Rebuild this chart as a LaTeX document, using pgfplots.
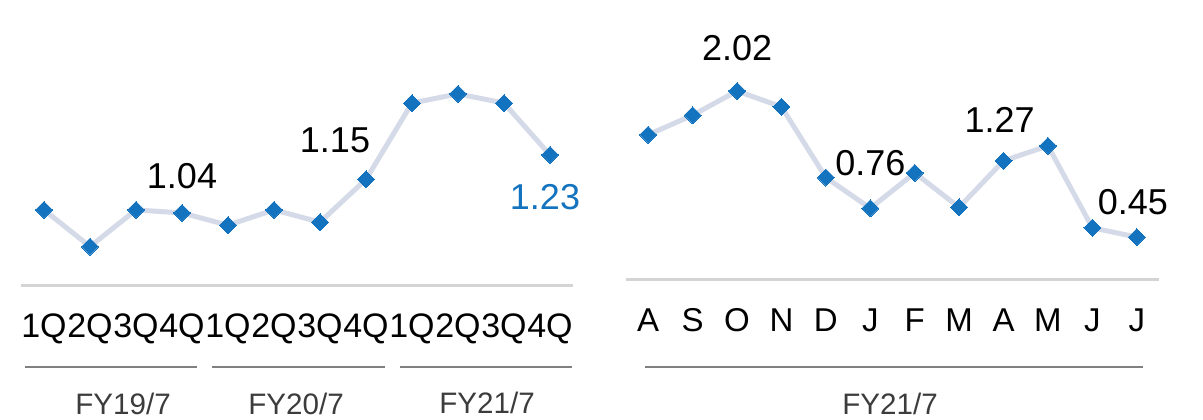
\documentclass[border=0pt]{standalone}
\usepackage{fontspec}
\setmainfont{Liberation Sans}
\usepackage{pgfplots}
\pgfplotsset{compat=1.18}
\definecolor{mk}{RGB}{20,115,190}
\definecolor{ln}{RGB}{213,218,232}
\definecolor{base}{RGB}{212,212,212}
\definecolor{sep}{RGB}{128,128,128}
\definecolor{grp}{RGB}{60,60,60}
\pgfplotsset{
  panel/.style={
    scale only axis, anchor=south west,
    axis x line*=bottom, hide y axis,
    x axis line style={draw=base, line width=1.5pt, -},
    xtick={0,...,11}, major tick length=0pt,
    xmin=-0.5, xmax=11.5, clip=false,
    xticklabel style={anchor=base, yshift=-26pt, inner sep=0pt, text=black},
  },
  series/.style={color=ln, line width=2.5pt, mark=square*, mark size=3pt,
    mark options={rotate=45, fill=mk, draw=mk, line width=0pt}},
}
\newcommand{\vl}{\fontsize{18}{21}\selectfont}
\begin{document}
\begin{tikzpicture}
\path[use as bounding box] (0,0) rectangle (601.5pt,209.5pt);
\begin{axis}[panel, at={(10.5pt,67pt)}, width=276pt, height=112.5pt,
  ymin=0.804, ymax=1.541,
  xticklabel style={font=\fontsize{17}{20}\selectfont},
  xticklabels={1Q,2Q,3Q,4Q,1Q,2Q,3Q,4Q,1Q,2Q,3Q,4Q}]
\addplot[series] coordinates {(0,1.05) (1,0.93) (2,1.05) (3,1.04) (4,1.00) (5,1.05) (6,1.01) (7,1.15) (8,1.40) (9,1.43) (10,1.40) (11,1.23)};
\node[font=\vl, anchor=center, yshift=18.5pt] at (axis cs:3,1.04) {1.04};
\node[font=\vl, anchor=center, xshift=-15.5pt, yshift=19.5pt] at (axis cs:7,1.15) {1.15};
\node[font=\vl, anchor=center, text=mk, xshift=-2.5pt, yshift=-21pt] at (axis cs:11,1.23) {1.23};
\end{axis}
\begin{axis}[panel, at={(313pt,70pt)}, width=266.5pt, height=109.5pt,
  ymin=0, ymax=2.353,
  xticklabel style={font=\fontsize{16.5}{20}\selectfont},
  xticklabels={A,S,O,N,D,J,F,M,A,M,J,J}]
\addplot[series] coordinates {(0,1.55) (1,1.76) (2,2.02) (3,1.85) (4,1.09) (5,0.76) (6,1.14) (7,0.77) (8,1.27) (9,1.43) (10,0.55) (11,0.45)};
\node[font=\vl, anchor=center, yshift=21.5pt] at (axis cs:2,2.02) {2.02};
\node[font=\vl, anchor=center, yshift=22.5pt] at (axis cs:5,0.76) {0.76};
\node[font=\vl, anchor=center, xshift=-2pt, yshift=20.5pt] at (axis cs:8,1.27) {1.27};
\node[font=\vl, anchor=center, xshift=-2pt, yshift=17.5pt] at (axis cs:11,0.45) {0.45};
\end{axis}
\begin{scope}[x=0.5pt, y=-0.5pt, yshift=209.5pt]
\draw[sep, line width=1pt] (25,367) -- (197,367);
\draw[sep, line width=1pt] (212,367) -- (385,367);
\draw[sep, line width=1pt] (400,367) -- (572,367);
\draw[sep, line width=1pt] (645,367) -- (1143,367);
\tikzset{g/.style={anchor=base, inner sep=0pt, text=grp, font=\fontsize{14.8}{18}\selectfont}}
\node[g] at (123,414.5) {FY19/7};
\node[g] at (296,414.5) {FY20/7};
\node[g] at (487,413) {FY21/7};
\node[g] at (890,414.5) {FY21/7};
\end{scope}
\end{tikzpicture}
\end{document}
